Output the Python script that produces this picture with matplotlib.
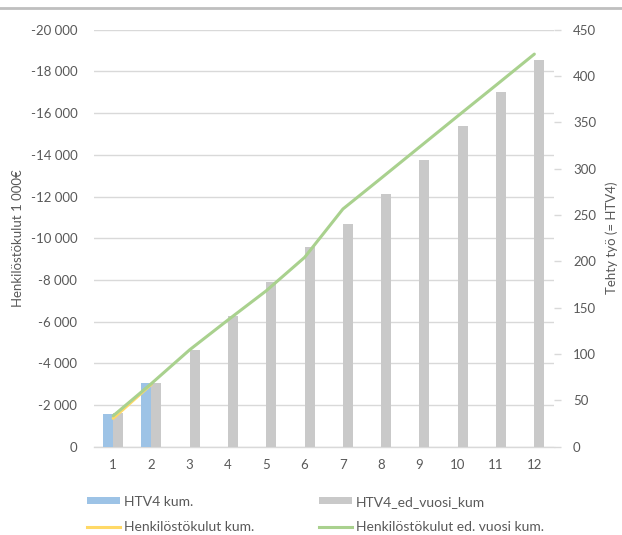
import matplotlib
matplotlib.use("Agg")
import matplotlib.pyplot as plt
from matplotlib.ticker import FuncFormatter, FixedLocator
from matplotlib.lines import Line2D
from matplotlib.patches import Patch
import numpy as np

plt.rcParams['font.family'] = ['Lato', 'DejaVu Sans']

months = [1, 2, 3, 4, 5, 6, 7, 8, 9, 10, 11, 12]
htv4_kum = [35.5, 68.5]
htv4_ed_vuosi_kum = [36.5, 68.5, 104.7, 141, 178, 215.7, 240, 273, 309, 345.6, 383, 417.6]
henkilostokulut_kum = [-1360, -3000]
henkilostokulut_ed_vuosi_kum = [-1480, -3030, -4650, -6080, -7480, -9080,
                                -11400, -12880, -14370, -15860, -17340, -18830]

left_ticks = list(range(0, -20001, -2000))
right_ticks = list(range(0, 451, 50))

TXT = '#595959'
GRID = '#d9d9d9'
BLUE = '#9dc3e6'
GRAY = '#c9c9c9'
YELLOW = '#ffd966'
GREEN = '#a9d18e'
FS = 9.5

fig = plt.figure(figsize=(6.22, 5.35), dpi=100)
ax = fig.add_axes([94/622, 1-446.7/535, (553.5-94)/622, (446.7-29.7)/535])
ax2 = ax.twinx()

x = np.arange(len(months))
bw = 0.26

# left axis (costs)
ax.set_ylim(0, -20000)
ax.yaxis.set_major_locator(FixedLocator(left_ticks))
ax.yaxis.set_major_formatter(FuncFormatter(lambda v, p: f"{int(round(v)):,}".replace(",", " ")))
ax.grid(axis='y', color=GRID, lw=1)
ax.set_axisbelow(True)
ax.set_xlim(-0.5, len(months) - 0.5)
ax.set_xticks(x)
ax.set_xticklabels([str(m) for m in months])
for s in ['top', 'left', 'right']:
    ax.spines[s].set_visible(False)
ax.spines['bottom'].set_color(GRID)
ax.spines['bottom'].set_linewidth(1)
ax.tick_params(axis='x', length=0, pad=9, labelsize=FS, labelcolor=TXT)
ax.tick_params(axis='y', length=0, pad=12, labelsize=FS, labelcolor=TXT)
ax.set_ylabel("Henkilöstökulut 1 000€", color=TXT, fontsize=FS, labelpad=5)

# right axis (work)
ax2.set_ylim(0, 450)
ax2.yaxis.set_major_locator(FixedLocator(right_ticks))
for s in ['top', 'left', 'right', 'bottom']:
    ax2.spines[s].set_visible(False)
ax2.tick_params(axis='y', length=5, width=1, color=GRID, direction='out', pad=9,
                labelsize=FS, labelcolor=TXT)
ax2.set_ylabel("Tehty työ (= HTV4)", color=TXT, fontsize=FS, labelpad=7)

ax2.bar(x[:len(htv4_kum)] - bw/2, htv4_kum, width=bw, color=BLUE, zorder=2)
ax2.bar(x + bw/2, htv4_ed_vuosi_kum, width=bw, color=GRAY, zorder=2)

# lines drawn in left-axis coordinates, on top of bars
ax2.plot(x[:len(henkilostokulut_kum)], henkilostokulut_kum, color=YELLOW, lw=2.2,
         transform=ax.transData, zorder=3, solid_capstyle='round')
ax2.plot(x, henkilostokulut_ed_vuosi_kum, color=GREEN, lw=2.2,
         transform=ax.transData, zorder=4, solid_capstyle='round')
ax2.set_xlim(-0.5, len(months) - 0.5)

# top border line
fig.add_artist(Line2D([0, 1], [1-7.5/535, 1-7.5/535], color='#bfbfbf', lw=2, transform=fig.transFigure))

handles = [Patch(facecolor=BLUE, edgecolor='none'),
           Line2D([0], [0], color=YELLOW, lw=2.2),
           Patch(facecolor=GRAY, edgecolor='none'),
           Line2D([0], [0], color=GREEN, lw=2.2)]
labels = ["HTV4 kum.", "Henkilöstökulut kum.", "HTV4_ed_vuosi_kum", "Henkilöstökulut ed. vuosi kum."]
leg = fig.legend(handles, labels, ncol=2, loc='center left', bbox_to_anchor=(87/622, 1-514.5/535),
                 frameon=False, fontsize=10, labelcolor=TXT, handlelength=2.4, handleheight=0.45,
                 handletextpad=0.3, columnspacing=4.6, labelspacing=1.0, borderpad=0, borderaxespad=0)

fig.savefig("out.png", dpi=100)
